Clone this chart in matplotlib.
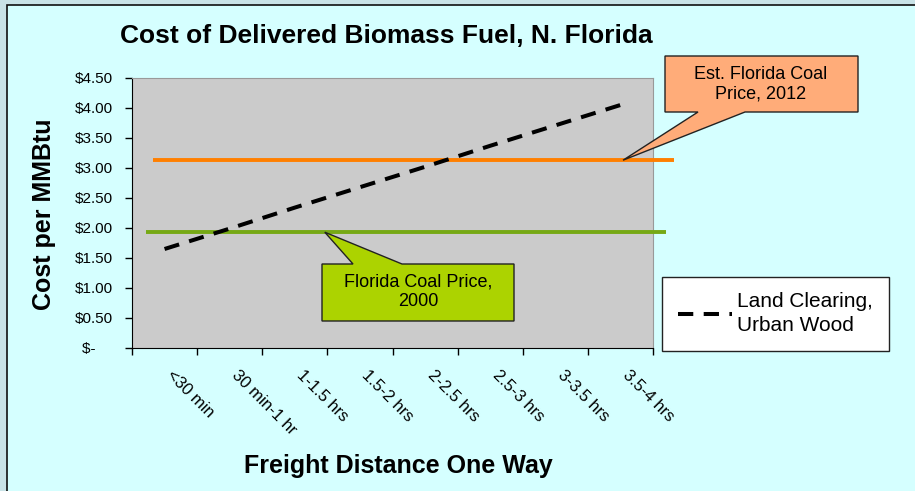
import matplotlib
matplotlib.use("Agg")
import matplotlib.pyplot as plt
import matplotlib.transforms as mtransforms
from matplotlib.patches import Polygon, Rectangle
from matplotlib.lines import Line2D

plt.rcParams['font.family'] = ['Liberation Sans', 'DejaVu Sans']
plt.rcParams['lines.scale_dashes'] = False

categories = ["<30 min", "30 min-1 hr", "1-1.5 hrs", "1.5-2 hrs",
              "2-2.5 hrs", "2.5-3 hrs", "3-3.5 hrs", "3.5-4 hrs"]
land_clearing = [1.65, 1.99, 2.34, 2.68, 3.02, 3.37, 3.71, 4.05]
coal_2012 = 3.13
coal_2000 = 1.93
yticks = [0, 0.5, 1.0, 1.5, 2.0, 2.5, 3.0, 3.5, 4.0, 4.5]
ytick_labels = ["$-    ", "$0.50", "$1.00", "$1.50", "$2.00", "$2.50",
                "$3.00", "$3.50", "$4.00", "$4.50"]

W, H = 915, 491
fig = plt.figure(figsize=(W / 100, H / 100), dpi=100)
fig.patch.set_facecolor('#c9e3e7')

def fx(px):
    return px / W

def fy(py):
    return 1 - py / H

# panel
fig.patches.append(Rectangle((fx(7), -0.01), 1.0, fy(5) + 0.01, transform=fig.transFigure,
                             facecolor='#d5ffff', edgecolor='#111111', linewidth=1.2, zorder=-5))

ax = fig.add_axes([fx(132), fy(348), fx(653) - fx(132), fy(78) - fy(348)])
ax.set_zorder(1)
ax.set_facecolor('#cbcbcb')
x = list(range(len(categories)))
ax.set_xlim(-0.5, len(categories) - 0.5)
ax.set_ylim(0, 4.5)

DASH = [11, 7.5]
ax.plot(x, land_clearing, color='black', linewidth=2.9, dashes=DASH, zorder=5,
        label="Land Clearing,\nUrban Wood")
ax.plot([-0.17, 7.82], [coal_2012, coal_2012], color='#ff7f00', linewidth=2.8,
        clip_on=False, zorder=4, solid_capstyle='butt')
ax.plot([-0.28, 7.70], [coal_2000, coal_2000], color='#76a915', linewidth=2.8,
        clip_on=False, zorder=4, solid_capstyle='butt')

ax.set_yticks(yticks)
ax.set_yticklabels(ytick_labels, fontsize=11)
ax.set_xticks([i - 0.5 for i in range(len(categories) + 1)])
ax.set_xticklabels([])
ax.set_xticks(x, minor=True)
ax.set_xticklabels(categories, minor=True, rotation=-45, ha='left', va='top',
                   rotation_mode='anchor', fontsize=12)
ax.tick_params(axis='x', which='minor', length=0, pad=14)
ax.tick_params(axis='x', which='major', length=5, direction='out', width=1)
ax.tick_params(axis='y', length=5, direction='out', width=1, pad=9)
offset = mtransforms.ScaledTranslation(10 / 100, 0, fig.dpi_scale_trans)
for lbl in ax.get_xticklabels(minor=True):
    lbl.set_transform(lbl.get_transform() + offset)
ax.spines['left'].set_color('black')
ax.spines['bottom'].set_color('black')
ax.spines['top'].set_color('#999999')
ax.spines['right'].set_color('#999999')

fig.text(fx(386), fy(36), "Cost of Delivered Biomass Fuel, N. Florida",
         ha='center', va='center', fontsize=19, fontweight='bold')
fig.text(fx(44), fy(214), "Cost per MMBtu", rotation=90, ha='center', va='center',
         fontsize=18, fontweight='bold')
fig.text(fx(398), fy(466), "Freight Distance One Way", ha='center', va='center',
         fontsize=18, fontweight='bold')

# callouts
def callout(box, base, tip_data, fill, text, tcenter):
    x0, y0, x1, y1 = box
    tip = ax.transData.transform(tip_data)
    tipx, tipy = tip[0], tip[1]
    X0, X1 = x0, x1
    Y0, Y1 = H - y0, H - y1
    bx0, bx1, bedge = base
    if bedge == 'bottom':
        pts = [(X0, Y0), (X1, Y0), (X1, Y1), (bx1, Y1), (tipx, tipy), (bx0, Y1), (X0, Y1)]
    else:
        pts = [(X0, Y0), (bx0, Y0), (tipx, tipy), (bx1, Y0), (X1, Y0), (X1, Y1), (X0, Y1)]
    pts = [(px / W, py / H) for px, py in pts]
    fig.patches.append(Polygon(pts, closed=True, transform=fig.transFigure,
                               facecolor=fill, edgecolor='#222222', linewidth=1.0, zorder=6))
    fig.text(fx(tcenter[0]), fy(tcenter[1]), text, ha='center', va='center',
             fontsize=13, linespacing=1.2, zorder=7)

callout((665, 56, 858, 112), (698, 745, 'bottom'), (7.04, coal_2012), '#ffac79',
        "Est. Florida Coal\nPrice, 2012", (761, 84))
callout((322, 264, 514, 321), (353, 402, 'top'), (2.46, coal_2000), '#acd300',
        "Florida Coal Price,\n2000", (418, 292))

# legend
leg = fig.legend(handles=[Line2D([0], [0], color='black', linewidth=2.9, dashes=DASH)],
                 labels=["Land Clearing,\nUrban Wood"],
                 loc='lower left', bbox_to_anchor=(fx(662), fy(351), fx(889) - fx(662), fy(273) - fy(351)),
                 mode='expand', fontsize=15, frameon=True, fancybox=False,
                 edgecolor='#222222', handlelength=2.6, borderaxespad=0,
                 borderpad=0.75, handletextpad=0.25, labelspacing=0.2)
for t in leg.get_texts():
    t.set_linespacing(1.35)
leg.get_frame().set_linewidth(1.0)
leg.get_frame().set_facecolor('white')
leg.get_frame().set_alpha(1)
leg.set_zorder(8)

fig.savefig("out.png", dpi=100, facecolor=fig.get_facecolor())
